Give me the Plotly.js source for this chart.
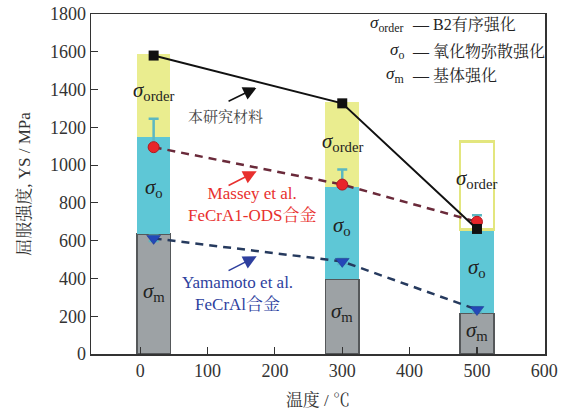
<!DOCTYPE html>
<html>
<head>
<meta charset="utf-8">
<script src="https://cdn.plot.ly/plotly-3.0.1.min.js"></script>
<style>
  html, body { margin: 0; padding: 0; background: #ffffff; }
  #chart { width: 568px; height: 412px; }
</style>
</head>
<body>
<div id="chart"></div>
<script>
// Test temperatures (°C)
const temps = [20, 300, 500];

// Strengthening contributions stacked in each bar (MPa)
const sigmaM = [635, 395, 215];      // matrix strengthening
const sigmaO = [515, 490, 445];      // oxide dispersion strengthening
const sigmaOrder = [440, 450, 465];  // B2 ordering strengthening

// Measured yield strength of this work's material
const thisWork = [1580, 1327, 662];

// Reference alloys
const massey = [1095, 897, 700];
const masseyErr = [150, 80, 35];
const yamamoto = [612, 490, 235];
const yamamotoErr = [15, 15, 15];

// Axis tick values
const xTicks = [0, 100, 200, 300, 400, 500, 600];
const yTicks = [0, 200, 400, 600, 800, 1000, 1200, 1400, 1600, 1800];

const SERIF = 'Liberation Serif, Times New Roman, Noto Serif CJK SC, Noto Sans CJK SC, serif';
const BAR_W = 50;

const traces = [
  {
    type: 'bar', x: temps, y: sigmaM, width: BAR_W,
    marker: { color: '#9da2a5', line: { color: '#55585a', width: 1.5 } },
    hoverinfo: 'skip'
  },
  {
    type: 'bar', x: temps, y: sigmaO, width: BAR_W,
    marker: { color: '#5ec7d6', line: { color: '#5ec7d6', width: 0 } },
    hoverinfo: 'skip'
  },
  {
    type: 'bar', x: temps, y: sigmaOrder, width: BAR_W,
    marker: {
      color: ['#eaed8f', '#eaed8f', 'rgba(255,255,255,0)'],
      line: { color: ['#eaed8f', '#eaed8f', '#e3e67e'], width: [0, 0, 2.5] }
    },
    hoverinfo: 'skip'
  },
  {
    type: 'scatter', mode: 'lines+markers', x: temps, y: massey,
    line: { color: '#6a2a3a', width: 2.5, dash: '8px,6px' },
    marker: { symbol: 'circle', size: 11, color: '#e8252a', line: { color: '#b01a20', width: 1 } },
    error_y: { type: 'data', array: masseyErr, arrayminus: [0, 0, 0], symmetric: false,
               color: '#5bb8c2', thickness: 2.5, width: 5 },
    hoverinfo: 'skip'
  },
  {
    type: 'scatter', mode: 'lines+markers', x: temps, y: yamamoto,
    line: { color: '#263a5e', width: 2.5, dash: '8px,6px' },
    marker: { symbol: 'triangle-down', size: 12, color: '#2448b8', line: { color: '#1a348a', width: 0.5 } },
    error_y: { type: 'data', array: yamamotoErr, color: '#5bb8c2', thickness: 2, width: 5 },
    hoverinfo: 'skip'
  },
  {
    type: 'scatter', mode: 'lines+markers', x: temps, y: thisWork,
    line: { color: '#111111', width: 2 },
    marker: { symbol: 'square', size: 10, color: '#111111' },
    hoverinfo: 'skip'
  }
];

function sig(sub) { return '<i>σ</i><sub>' + sub + '</sub>'; }

const annotations = [];

// Component labels inside each bar
const orderLabelY = [1390, 1120, 925];
const oLabelY = [880, 676, 455];
const mLabelY = [330, 225, 124];
temps.forEach((t, i) => {
  annotations.push({ x: t, y: orderLabelY[i], text: sig('order'), showarrow: false,
    font: { family: SERIF, size: 21, color: '#222' } });
  annotations.push({ x: t, y: oLabelY[i], text: sig('o'), showarrow: false,
    font: { family: SERIF, size: 21, color: '#222' } });
  annotations.push({ x: t, y: mLabelY[i], text: sig('m'), showarrow: false,
    font: { family: SERIF, size: 21, color: '#222' } });
});

// Key for the symbols, top right
const keySym = ['order', 'o', 'm'];
const keyText = ['B2有序强化', '氧化物弥散强化', '基体强化'];
const keyY = [1747, 1604, 1476];
keySym.forEach((s, i) => {
  annotations.push({ x: 395, y: keyY[i], xanchor: 'right', text: sig(s), showarrow: false,
    font: { family: SERIF, size: 17, color: '#222' } });
  annotations.push({ x: 400, y: keyY[i], xanchor: 'left', text: '— ' + keyText[i], showarrow: false,
    font: { family: SERIF, size: 16, color: '#222' } });
});

// Series captions
annotations.push({ x: 126, y: 1253, text: '本研究材料', showarrow: false,
  font: { family: SERIF, size: 15, color: '#444' } });
annotations.push({ x: 166, y: 792, text: 'Massey et al.<br>FeCrA1-ODS合金', showarrow: false,
  font: { family: SERIF, size: 17, color: '#e8302e' } });
annotations.push({ x: 144, y: 318, text: 'Yamamoto et al.<br>FeCrAl合金', showarrow: false,
  font: { family: SERIF, size: 17, color: '#2e3f9e' } });

// Pointer arrows from captions toward each curve
const arrowColors = ['#111111', '#e8302e', '#2e3f9e'];
const arrowHeadY = [1411, 968, 517];
const arrowTailY = [1334, 888, 437];
arrowColors.forEach((c, i) => {
  annotations.push({ x: 173, y: arrowHeadY[i], ax: 129, ay: arrowTailY[i],
    axref: 'x', ayref: 'y', xref: 'x', yref: 'y', text: '', showarrow: true,
    arrowhead: 2, arrowsize: 1.8, arrowwidth: 1.5, arrowcolor: c });
});

const layout = {
  width: 568, height: 412,
  margin: { l: 91, r: 23, t: 14, b: 58 },
  paper_bgcolor: '#ffffff', plot_bgcolor: '#ffffff',
  barmode: 'stack', showlegend: false,
  font: { family: SERIF, color: '#333' },
  xaxis: {
    range: [-73, 601], tickvals: xTicks, ticks: 'inside', ticklen: 7, tickwidth: 1.2,
    tickcolor: '#333', showline: true, linecolor: '#333', linewidth: 1.5, mirror: true,
    showgrid: false, zeroline: false, tickfont: { family: SERIF, size: 18, color: '#333' },
    title: { text: '温度 / ℃', font: { family: SERIF, size: 17, color: '#333' }, standoff: 14 }
  },
  yaxis: {
    range: [0, 1800], tickvals: yTicks, ticks: 'inside', ticklen: 7, tickwidth: 1.2,
    tickcolor: '#333', showline: true, linecolor: '#333', linewidth: 1.5, mirror: true,
    showgrid: false, zeroline: false, tickfont: { family: SERIF, size: 18, color: '#333' },
    title: { text: '屈服强度, YS / MPa', font: { family: SERIF, size: 17, color: '#333' }, standoff: 15 }
  },
  annotations: annotations
};

Plotly.newPlot('chart', traces, layout, { staticPlot: true, displayModeBar: false });
</script>
</body>
</html>
